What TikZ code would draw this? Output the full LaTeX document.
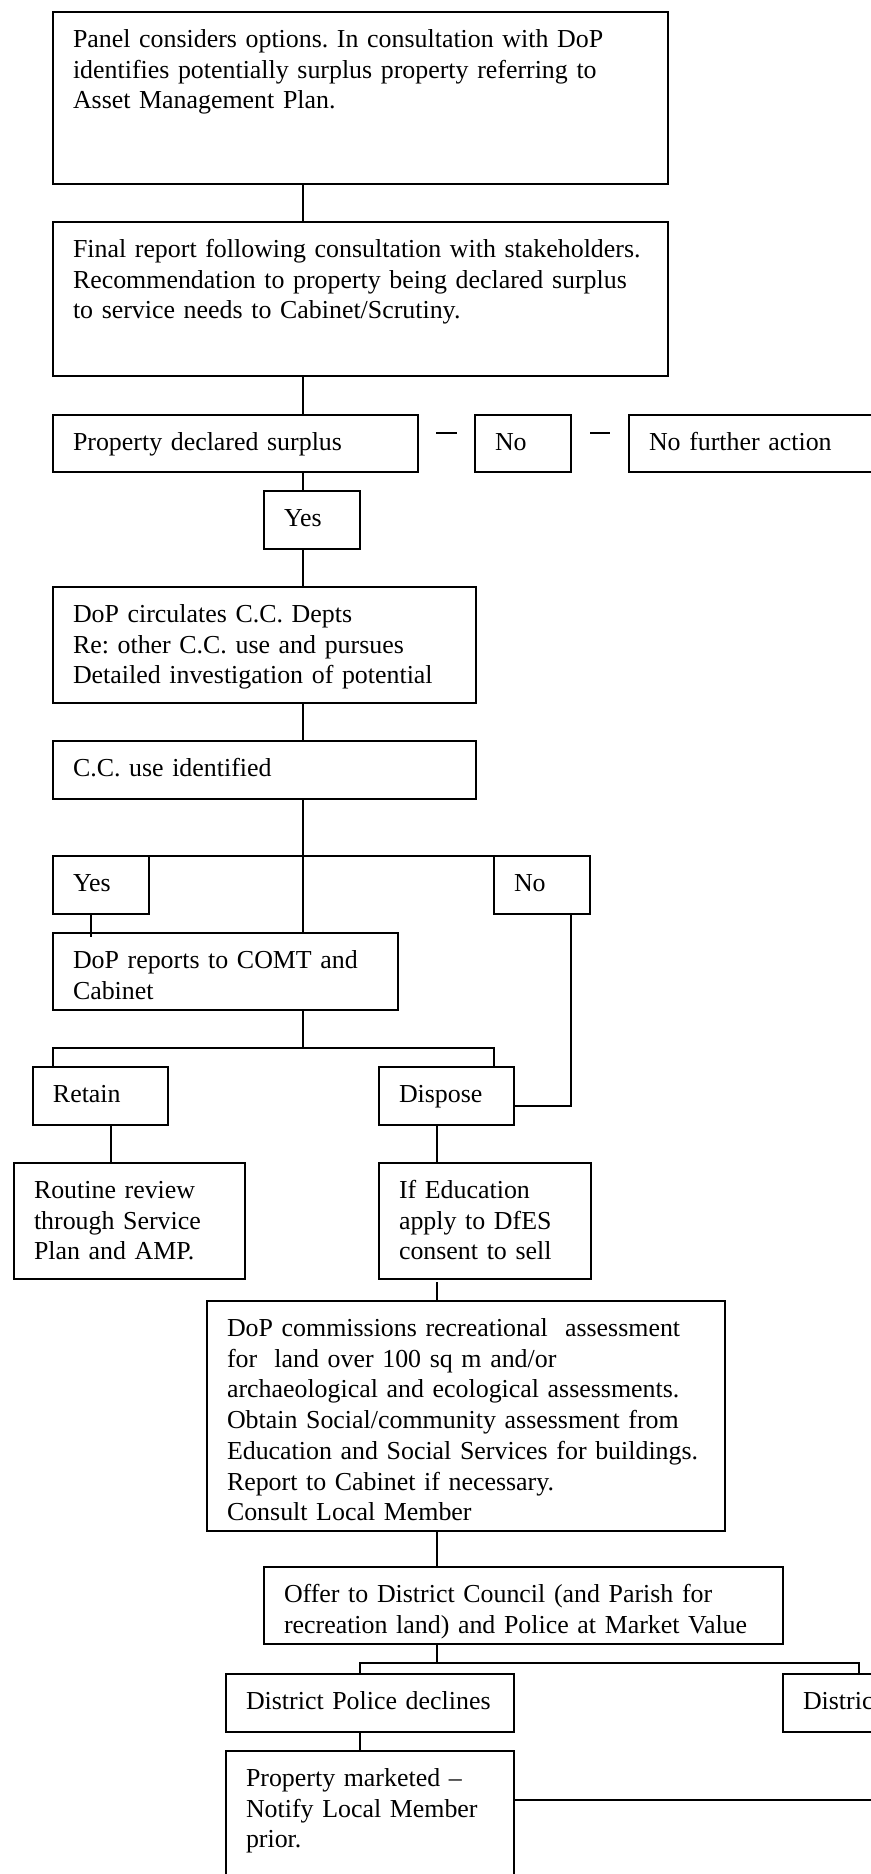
\documentclass[tikz,border=0pt]{standalone}
\usepackage{fontspec}
\setmainfont{Liberation Serif}
\begin{document}
\begin{tikzpicture}[
      x=0.5pt, y=-0.5pt,
      line width=0.75pt,
      box/.style={draw, anchor=north west, align=left, inner xsep=10pt,
        inner ysep=0pt, outer sep=0pt, text height=17.75pt,
        font=\fontsize{12.95}{15.35}\selectfont\frenchspacing},
      gap/.style={shorten <=#1, shorten >=#1},
    ]
    \useasboundingbox (0,0) rectangle (871,1874);
    \clip (0,0) rectangle (871,1874);
    \coordinate (trunk) at (303,0);
    \coordinate (trunkb) at (437,0);
    \node[box, text width=287.5pt, text depth=68.25pt] (panel) at (53,12)
      {Panel considers options. In consultation with DoP\\
       identifies potentially surplus property referring to\\
       Asset Management Plan.};
    \node[box, text width=287.5pt, text depth=59.25pt] (final) at (53,222)
      {Final report following consultation with stakeholders.\\
       Recommendation to property being declared surplus\\
       to service needs to Cabinet/Scrutiny.};
    \node[box, text width=162.5pt, text depth=10.75pt] (surplus) at (53,415)
      {Property declared surplus};
    \node[box, text width=28pt, text depth=10.75pt] (no1) at (475,415) {No};
    \node[box, text width=130pt, text depth=10.75pt] (nfa) at (629,415)
      {No further action};
    \node[box, text width=28pt, text depth=11.25pt] (yes1) at (264,491) {Yes};
    \node[box, text width=191.5pt, text depth=40.25pt] (circ) at (53,587)
      {DoP circulates C.C. Depts\\
       Re: other C.C. use and pursues\\
       Detailed investigation of potential};
    \node[box, text width=191.5pt, text depth=11.25pt] (ccuse) at (53,741)
      {C.C. use identified};
    \node[box, text width=28pt, text depth=11.25pt] (yes2) at (53,856) {Yes};
    \node[box, text width=28pt, text depth=11.25pt] (no2) at (494,856) {No};
    \node[box, text width=152.5pt, text depth=20.75pt] (report) at (53,933)
      {DoP reports to COMT and\\ Cabinet};
    \node[box, text width=47.5pt, text depth=11.25pt] (retain) at (33,1067) {Retain};
    \node[box, text width=47.5pt, text depth=11.25pt] (dispose) at (379,1067) {Dispose};
    \node[box, text width=95.5pt, text depth=40.25pt] (routine) at (14,1163)
      {Routine review\\ through Service\\ Plan and AMP.};
    \node[box, text width=86pt, text depth=40.25pt] (educ) at (379,1163)
      {If Education\\ apply to DfES\\ consent to sell};
    \node[box, text width=239pt, text depth=97.25pt] (comm) at (207,1301)
      {DoP commissions recreational~ assessment\\
       for~ land over 100 sq m and/or\\
       archaeological and ecological assessments.\\
       Obtain Social/community assessment from\\
       Education and Social Services for buildings.\\
       Report to Cabinet if necessary.\\
       Consult Local Member};
    \node[box, text width=239.5pt, text depth=20.75pt] (offer) at (264,1567)
      {Offer to District Council (and Parish for\\
       recreation land) and Police at Market Value};
    \node[box, text width=124pt, text depth=11.25pt] (police) at (226,1674)
      {District Police declines};
    \node[box, text width=124pt, text depth=11.25pt] (distc) at (783,1674)
      {District};
    \node[box, text width=124pt, text depth=68.25pt] (market) at (226,1751)
      {Property marketed –\\ Notify Local Member\\ prior.};
    \coordinate (split) at (303,1048);
    \coordinate (split2) at (437,1663);
    \coordinate (offpage) at (900,1800);
    \draw (panel.south -| trunk) -- (final.north -| trunk);
    \draw (final.south -| trunk) -- (surplus.north -| trunk);
    \draw[gap=9pt] ([yshift=5.25pt]surplus.east) -- ([yshift=5.25pt]no1.west);
    \draw[gap=9.5pt] ([yshift=5.25pt]no1.east) -- ([yshift=5.25pt]nfa.west);
    \draw (surplus.south -| trunk) -- (yes1.north -| trunk);
    \draw (yes1.south -| trunk) -- (circ.north -| trunk);
    \draw (circ.south -| trunk) -- (ccuse.north -| trunk);
    \draw (ccuse.south -| trunk) -- (report.north -| trunk);
    \draw (yes2.north west) -- (no2.north east);
    \draw[shorten >=-2pt] ([xshift=-5pt]yes2.south) -- ([xshift=-5pt]yes2.south |- report.north);
    \draw (report.south -| trunk) -- (split);
    \draw (retain.north -| report.west) |- (split) -| (dispose.north -| no2.west);
    \draw ([xshift=14.5pt]no2.south) |- ([yshift=-5pt]dispose.east);
    \draw ([xshift=5.25pt]retain.south) -- ([xshift=5.25pt]retain.south |- routine.north);
    \draw (dispose.south -| trunkb) -- (educ.north -| trunkb);
    \draw[shorten <=1.5pt] (educ.south -| trunkb) -- (comm.north -| trunkb);
    \draw (comm.south -| trunkb) -- (offer.north -| trunkb);
    \draw (offer.south -| trunkb) -- (split2);
    \draw ([xshift=-5pt]police.north) |- (split2) -| ([xshift=38pt]distc.north west);
    \draw ([xshift=-5pt]police.south) -- ([xshift=-5pt]police.south |- market.north);
    \draw ([yshift=-24.5pt]market.north east) -- (offpage);
\end{tikzpicture}
\end{document}
